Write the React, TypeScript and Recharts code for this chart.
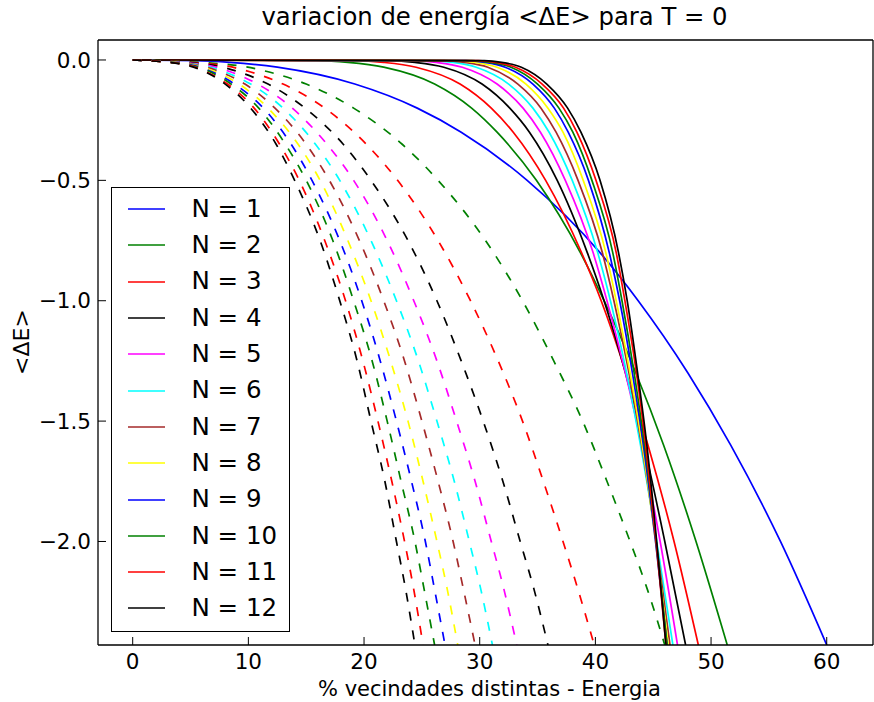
import * as React from 'react';
import { LineChart, Line, XAxis, YAxis, Legend } from 'recharts';

// axes
const X_TICKS = [0, 10, 20, 30, 40, 50, 60];
const Y_TICKS = [-2.0, -1.5, -1.0, -0.5, 0.0];

const N_VALUES = [1, 2, 3, 4, 5, 6, 7, 8, 9, 10, 11, 12];
const COLORS = ['#0000ff', '#008000', '#ff0000', '#000000', '#ff00ff', '#00ffff',
  '#a52a2a', '#ffff00', '#0000ff', '#008000', '#ff0000', '#000000'];

// solid curves: <dE> levels, and the % at which each N reaches them
const SOLID_Y = [0, -0.003, -0.01, -0.03, -0.1, -0.2, -0.3, -0.5, -0.8, -1.0, -1.3, -1.6, -2.0, -2.43];
const SOLID_X = [
  [0, 5.5, 8.4, 12.5, 19.2, 24.6, 28.4, 34.1, 40.4, 43.7, 48.0, 51.7, 56.0, 60.0],
  [0, 15.9, 18.6, 21.7, 26.1, 29.3, 31.5, 34.9, 38.7, 40.75, 43.5, 45.9, 48.7, 51.4],
  [0, 19.2, 21.7, 24.5, 28.3, 31.0, 32.9, 35.7, 38.8, 40.5, 42.65, 44.55, 46.8, 48.9],
  [0, 22.15, 24.4, 26.9, 30.2, 32.6, 34.3, 36.7, 39.3, 40.75, 42.6, 44.2, 46.0, 47.8],
  [0, 24.2, 26.25, 28.5, 31.5, 33.75, 35.25, 37.4, 39.8, 41.0, 42.6, 44.0, 45.6, 47.1],
  [0, 25.7, 27.65, 29.7, 32.5, 34.6, 36.0, 38.0, 40.2, 41.3, 42.7, 43.9, 45.3, 46.7],
  [0, 26.9, 28.7, 30.7, 33.3, 35.3, 36.6, 38.5, 40.6, 41.6, 42.9, 44.0, 45.25, 46.45],
  [0, 27.9, 29.6, 31.5, 34.0, 35.9, 37.2, 38.95, 40.9, 41.8, 43.0, 44.05, 45.2, 46.3],
  [0, 28.8, 30.45, 32.2, 34.6, 36.45, 37.65, 39.4, 41.2, 42.1, 43.2, 44.15, 45.2, 46.2],
  [0, 29.3, 30.9, 32.7, 35.0, 36.85, 38.05, 39.7, 41.5, 42.3, 43.35, 44.25, 45.25, 46.2],
  [0, 29.9, 31.4, 33.1, 35.4, 37.25, 38.4, 40.05, 41.8, 42.55, 43.55, 44.35, 45.25, 46.1],
  [0, 30.4, 31.9, 33.6, 35.8, 37.6, 38.75, 40.4, 42.0, 42.75, 43.65, 44.45, 45.3, 46.1],
];

// dashed curves (N = 2..12)
const DASHED_Y = [0, -0.02, -0.05, -0.1, -0.2, -0.35, -0.5, -0.75, -1.0, -1.25, -1.5, -1.75, -2.0, -2.2, -2.43];
const DASHED_X = [
  [0, 8.5, 11.8, 15.0, 19.1, 23.3, 26.4, 30.5, 33.7, 36.4, 38.9, 41.0, 43.0, 44.5, 46.0],
  [0, 7.4, 10.2, 13.0, 16.6, 20.2, 22.9, 26.4, 29.2, 31.6, 33.7, 35.5, 37.2, 38.5, 39.9],
  [0, 6.7, 9.2, 11.7, 14.9, 18.2, 20.6, 23.8, 26.3, 28.4, 30.3, 32.0, 33.5, 34.7, 35.9],
  [0, 6.2, 8.5, 10.8, 13.8, 16.8, 19.1, 22.0, 24.3, 26.3, 28.0, 29.6, 31.0, 32.1, 33.2],
  [0, 5.8, 8.0, 10.2, 13.0, 15.8, 17.9, 20.6, 22.8, 24.7, 26.3, 27.8, 29.1, 30.1, 31.1],
  [0, 5.5, 7.6, 9.7, 12.3, 15.0, 17.0, 19.6, 21.7, 23.5, 25.0, 26.4, 27.7, 28.6, 29.6],
  [0, 5.2, 7.2, 9.2, 11.7, 14.3, 16.2, 18.6, 20.6, 22.3, 23.8, 25.1, 26.3, 27.2, 28.1],
  [0, 5.0, 6.9, 8.8, 11.3, 13.7, 15.5, 17.9, 19.8, 21.4, 22.8, 24.1, 25.3, 26.1, 27.0],
  [0, 4.8, 6.7, 8.5, 10.9, 13.2, 15.0, 17.3, 19.1, 20.7, 22.0, 23.2, 24.4, 25.2, 26.1],
  [0, 4.7, 6.4, 8.2, 10.5, 12.7, 14.4, 16.6, 18.4, 19.9, 21.2, 22.4, 23.5, 24.3, 25.1],
  [0, 4.5, 6.3, 8.0, 10.2, 12.4, 14.0, 16.2, 17.9, 19.4, 20.6, 21.8, 22.8, 23.6, 24.4],
];

const FONT = 'DejaVu Sans';
const Y_DOMAIN = [-2.43, 0.083];
const X_DOMAIN = [-3, 64];

const toPoints = (xs: number[], ys: number[]) => xs.map((x, i) => ({ x, y: ys[i] }));
const fmt = (v: number) => v.toFixed(1).replace('-', '\u2212');

const renderLegend = () => (
  <div style={{
    width: 179, height: 445, boxSizing: 'border-box', border: '1.5px solid #000',
    background: '#fff', paddingTop: 3, fontFamily: FONT,
  }}>
    {N_VALUES.map((n, i) => (
      <div key={n} style={{ display: 'flex', alignItems: 'center', height: 36.3 }}>
        <svg width={37} height={6} style={{ marginLeft: 15.5, display: 'block' }}>
          <line x1={0} y1={3} x2={37} y2={3} stroke={COLORS[i]} strokeWidth={1.7} />
        </svg>
        <span style={{ marginLeft: 27, fontSize: 24.5, lineHeight: 1, color: '#000', whiteSpace: 'nowrap' }}>N = {n}</span>
      </div>
    ))}
  </div>
);

const spine = { stroke: '#000', strokeWidth: 1.3 };
const tickMark = { stroke: '#000', strokeWidth: 1 };

const App: React.FunctionComponent = () => {
  const tick = { fontSize: 21.5, fill: '#000', fontFamily: FONT };
  return (
    <div style={{ position: 'absolute', left: 0, top: 0, width: 874, height: 702, background: '#fff', fontFamily: FONT }}>
      <div style={{ position: 'absolute', left: 108, width: 773, top: 5, textAlign: 'center', fontSize: 24.3, lineHeight: 1 }}>
        variacion de energía &lt;ΔE&gt; para T = 0
      </div>
      <LineChart width={874} height={702} margin={{ top: 39, right: 0, bottom: 0, left: 0 }}>
        <XAxis dataKey="x" type="number" domain={X_DOMAIN} ticks={X_TICKS} allowDataOverflow
          height={57} tickSize={-8} tickMargin={17} tick={tick} axisLine={spine} tickLine={tickMark} />
        <XAxis xAxisId="top" orientation="top" dataKey="x" type="number" domain={X_DOMAIN} ticks={X_TICKS}
          allowDataOverflow height={1} tickSize={-8} tick={false} axisLine={spine} tickLine={tickMark} />
        <YAxis type="number" domain={Y_DOMAIN} ticks={Y_TICKS} allowDataOverflow interval={0}
          width={98} tickSize={-8} tickMargin={15} tick={tick} tickFormatter={fmt}
          axisLine={spine} tickLine={tickMark} />
        <YAxis yAxisId="right" orientation="right" type="number" domain={Y_DOMAIN} ticks={Y_TICKS}
          allowDataOverflow interval={0} width={1} tickSize={-8} tick={false} axisLine={spine} tickLine={tickMark} />
        <Legend layout="vertical" align="center" verticalAlign="middle" content={renderLegend}
          wrapperStyle={{ left: 111, top: 187, width: 179, height: 445 }} />
        {SOLID_X.map((xs, i) => (
          <Line key={`s${i}`} data={toPoints(xs, SOLID_Y)} dataKey="y" name={`N = ${N_VALUES[i]}`}
            type="monotone" stroke={COLORS[i]} strokeWidth={1.7} dot={false} activeDot={false}
            isAnimationActive={false} />
        ))}
        {DASHED_X.map((xs, i) => (
          <Line key={`d${i}`} xAxisId="top" yAxisId="right" data={toPoints(xs, DASHED_Y)} dataKey="y"
            legendType="none" type="monotone" stroke={COLORS[i + 1]} strokeWidth={1.7} strokeDasharray="9 10"
            dot={false} activeDot={false} isAnimationActive={false} />
        ))}
      </LineChart>
      <div style={{ position: 'absolute', left: 103, width: 773, top: 679, textAlign: 'center', fontSize: 21, lineHeight: 1 }}>
        % vecindades distintas - Energia
      </div>
      <div style={{
        position: 'absolute', left: 22, top: 342, fontSize: 22, lineHeight: 1, whiteSpace: 'nowrap',
        transform: 'translate(-50%, -50%) rotate(-90deg)',
      }}>
        &lt;ΔE&gt;
      </div>
    </div>
  );
};

export default App;
